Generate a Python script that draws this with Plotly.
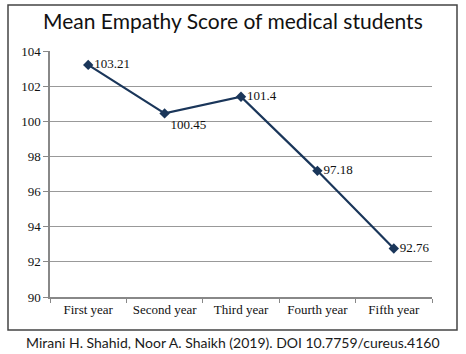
import plotly.graph_objects as go

categories = ["First year", "Second year", "Third year", "Fourth year", "Fifth year"]
scores = [103.21, 100.45, 101.4, 97.18, 92.76]
labels = ["103.21", "100.45", "101.4", "97.18", "92.76"]
label_pos = ["middle right", "bottom right", "middle right", "middle right", "middle right"]
y_ticks = [90, 92, 94, 96, 98, 100, 102, 104]

W, H = 466, 354
L, R, T, B = 50, 34, 51, 57
pw, ph = W - L - R, H - T - B

def px(x):
    return (x - L) / pw

def py(y):
    return (H - B - y) / ph

fig = go.Figure()
fig.add_trace(go.Scatter(
    x=categories, y=scores, mode="lines+markers+text",
    text=labels, textposition=label_pos,
    textfont=dict(family="Liberation Serif", size=13, color="#111"),
    line=dict(color="#1a365a", width=2.2),
    marker=dict(symbol="diamond", size=8, color="#1a365a"),
    cliponaxis=False, showlegend=False,
))

fig.update_layout(
    width=W, height=H,
    margin=dict(l=L, r=R, t=T, b=B),
    paper_bgcolor="white", plot_bgcolor="white",
    xaxis=dict(
        type="category", range=[-0.5, 4.5], showgrid=False,
        showline=True, linecolor="#888", linewidth=1.5,
        ticks="outside", tickson="boundaries", ticklen=4, tickcolor="#888",
        tickfont=dict(family="Liberation Serif", size=13, color="#111"),
    ),
    yaxis=dict(
        range=[90, 104], tickvals=y_ticks, showgrid=True,
        gridcolor="#999", gridwidth=1.2, zeroline=False,
        showline=True, linecolor="#888", linewidth=1.5,
        ticks="outside", ticklen=5, tickcolor="#888",
        tickfont=dict(family="Liberation Serif", size=13, color="#111"),
    ),
    shapes=[dict(type="rect", xref="paper", yref="paper",
                 x0=px(8), x1=px(457), y0=py(330), y1=py(5),
                 line=dict(color="#444", width=1.5), fillcolor="rgba(0,0,0,0)")],
    annotations=[
        dict(text="Mean Empathy Score of medical students", xref="paper", yref="paper",
             x=px(233), y=py(20), xanchor="center", yanchor="middle", showarrow=False,
             font=dict(family="Lato", size=21, color="#111")),
        dict(text="Mirani H. Shahid, Noor A. Shaikh (2019). DOI 10.7759/cureus.4160",
             xref="paper", yref="paper", x=px(233), y=py(342), xanchor="center",
             yanchor="middle", showarrow=False,
             font=dict(family="Lato", size=14, color="#1a1a1a")),
    ],
)

fig.write_html("out.html")
